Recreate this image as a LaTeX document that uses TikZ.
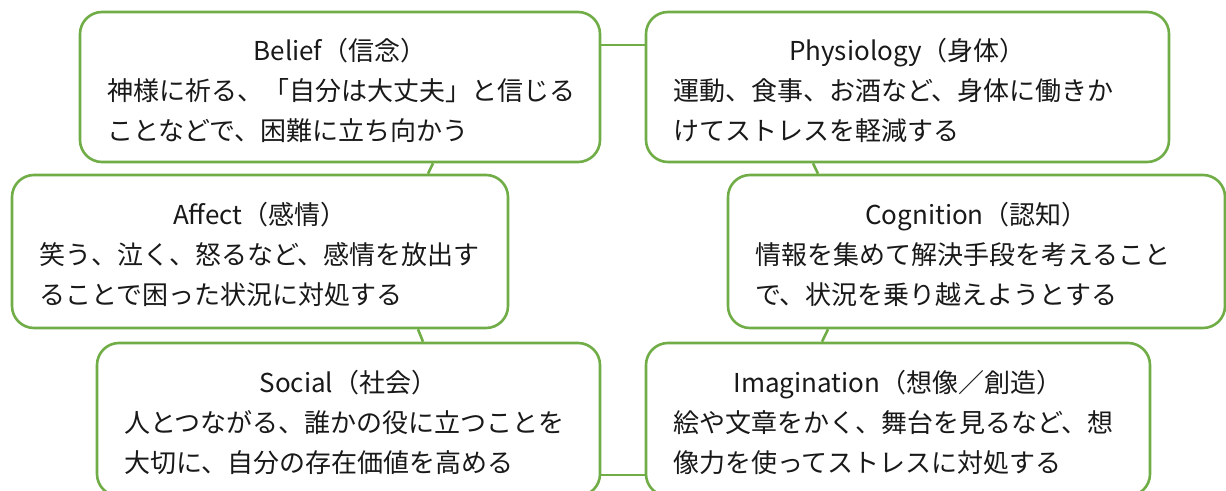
\documentclass[tikz,border=0pt]{standalone}
\usepackage{fontspec}
\setmainfont{Noto Sans CJK JP}
\usepackage{tikz}
\usetikzlibrary{calc}
\definecolor{copegreen}{RGB}{112,173,71}
\newcommand{\boxtitle}[1]{\makebox[\linewidth]{\rule{0pt}{29pt}#1}}

\tikzset{
    copebox/.style={draw=copegreen, line width=2.6pt, rounded corners=22pt, fill=white,
        inner xsep=27pt, inner ysep=0pt, align=left, text=black!90,
        font=\fontsize{26}{40}\selectfont},
    link/.style={draw=copegreen, line width=2.6pt}
}

\begin{document}
\begin{tikzpicture}[x=1pt, y=-1pt]
        \clip (0,0) rectangle (1226,490);
        \useasboundingbox (0,0) rectangle (1226,490);

        % the six boxes
        \node[copebox, text width=466pt, minimum height=150pt] (belief) at (340,87) {\boxtitle{Belief（信念）}\\
            神様に祈る、「自分は大丈夫」と信じる\\
            ことなどで、困難に立ち向かう};

        \node[copebox, text width=469pt, minimum height=150pt] (physio) at (907.5,87) {\boxtitle{Physiology（身体）}\\
            運動、食事、お酒など、身体に働きか\\
            けてストレスを軽減する};

        \node[copebox, text width=442pt, minimum height=153pt] (affect) at (260,251.5) {\boxtitle{Affect（感情）}\\
            笑う、泣く、怒るなど、感情を放出す\\
            ることで困った状況に対処する};

        \node[copebox, text width=443pt, minimum height=153pt] (cogn) at (976.5,251.5) {\boxtitle{Cognition（認知）}\\
            情報を集めて解決手段を考えること\\
            で、状況を乗り越えようとする};

        \node[copebox, text width=449pt, minimum height=153pt] (social) at (348.5,419.5) {\boxtitle{Social（社会）}\\
            人とつながる、誰かの役に立つことを\\
            大切に、自分の存在価値を高める};

        \node[copebox, text width=450pt, minimum height=153pt] (imag) at (898,419.5) {\boxtitle{Imagination（想像／創造）}\\
            絵や文章をかく、舞台を見るなど、想\\
            像力を使ってストレスに対処する};

        % links between the boxes
        \draw[link] (belief.east |- 0,45) -- (physio.west |- 0,45);
        \draw[link] (physio.south -| 813,0) -- (cogn.north -| 818,0);
        \draw[link] (belief.south -| 433,0) -- (affect.north -| 428,0);
        \draw[link] (affect.south -| 418,0) -- (social.north -| 423,0);
        \draw[link] (cogn.south -| 828,0) -- (imag.north -| 822,0);
        \draw[link] (social.east |- 0,475) -- (imag.west |- 0,475);
    \end{tikzpicture}
\end{document}
